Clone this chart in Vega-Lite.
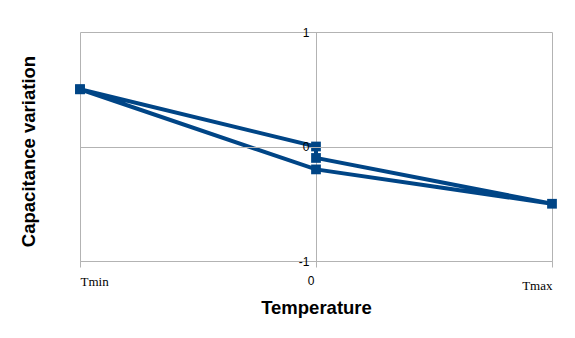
{
  "$schema": "https://vega.github.io/schema/vega-lite/v6.json",
  "autosize": "none",
  "width": 472,
  "height": 229,
  "padding": {"left": 80, "top": 32, "right": 23, "bottom": 77},
  "background": "white",
  "config": {"view": {"stroke": null}},
  "data": {"values": [
    {"step": 1, "temp": -1, "cap": 0.5},
    {"step": 2, "temp": 0, "cap": 0},
    {"step": 3, "temp": 0, "cap": -0.1},
    {"step": 4, "temp": 1, "cap": -0.5},
    {"step": 5, "temp": 0, "cap": -0.2},
    {"step": 6, "temp": -1, "cap": 0.5}
  ]},
  "encoding": {
    "x": {"field": "temp", "type": "quantitative",
      "scale": {"domain": [-1, 1], "nice": false, "zero": false},
      "axis": {
        "title": "Temperature", "titleFont": "Liberation Sans", "titleFontSize": 18.5, "titleFontWeight": "bold", "titleColor": "#000000",
        "titleBaseline": "alphabetic", "titleX": 236, "titleY": 52, "titleAnchor": null, "titleAlign": "center",
        "values": [-1, 0, 1],
        "labelExpr": "datum.value == -1 ? 'Tmin' : (datum.value == 1 ? 'Tmax' : '0')",
        "labelFont": {"condition": {"test": "datum.value == 0", "value": "Liberation Sans"}, "value": "Liberation Serif"},
        "labelFontSize": {"condition": {"test": "datum.value == 0", "value": 12}, "value": 13},
        "labelAlign": {"condition": {"test": "datum.value == -1", "value": "left"}, "value": "right"},
        "labelPadding": {"condition": {"test": "datum.value == 1", "value": 12}, "value": 8},
        "labelColor": "#000000",
        "labelOffset": {"condition": {"test": "datum.value == 0", "value": -2}, "value": 0},
        "labelFlush": false,
        "labelOverlap": false,
        "domain": true, "domainColor": "#b3b3b3", "domainWidth": 1,
        "ticks": true, "tickColor": "#b3b3b3", "tickSize": 6,
        "grid": true, "gridColor": "#b3b3b3", "gridWidth": 1
      }
    },
    "y": {"field": "cap", "type": "quantitative",
      "scale": {"domain": [-1, 1], "nice": false, "zero": false},
      "axis": {
        "title": "Capacitance variation", "titleFont": "Liberation Sans", "titleFontSize": 18.5, "titleFontWeight": "bold", "titleColor": "#000000",
        "titleAngle": -90, "titleBaseline": "alphabetic", "titleAlign": "center", "titleAnchor": null,
        "titleX": -282, "titleY": 119,
        "offset": -236,
        "zindex": 1,
        "values": [-1, 0, 1],
        "labelExpr": "datum.value == 0 ? '0' : (datum.value > 0 ? '1' : '-1')",
        "labelFont": "Liberation Sans", "labelFontSize": 12, "labelColor": "#000000",
        "labelPadding": 7, "labelBaseline": "middle", "labelFlush": false, "labelOverlap": false, "labelBound": false,
        "domain": false,
        "ticks": false,
        "grid": true, "gridColor": "#b3b3b3", "gridWidth": 1
      }
    },
    "order": {"field": "step", "type": "quantitative"}
  },
  "layer": [
    {"mark": {"type": "line", "color": "#004586", "strokeWidth": 4, "strokeJoin": "miter"}},
    {"mark": {"type": "point", "shape": "square", "filled": true, "opacity": 1, "color": "#004586", "size": 95}}
  ]
}
